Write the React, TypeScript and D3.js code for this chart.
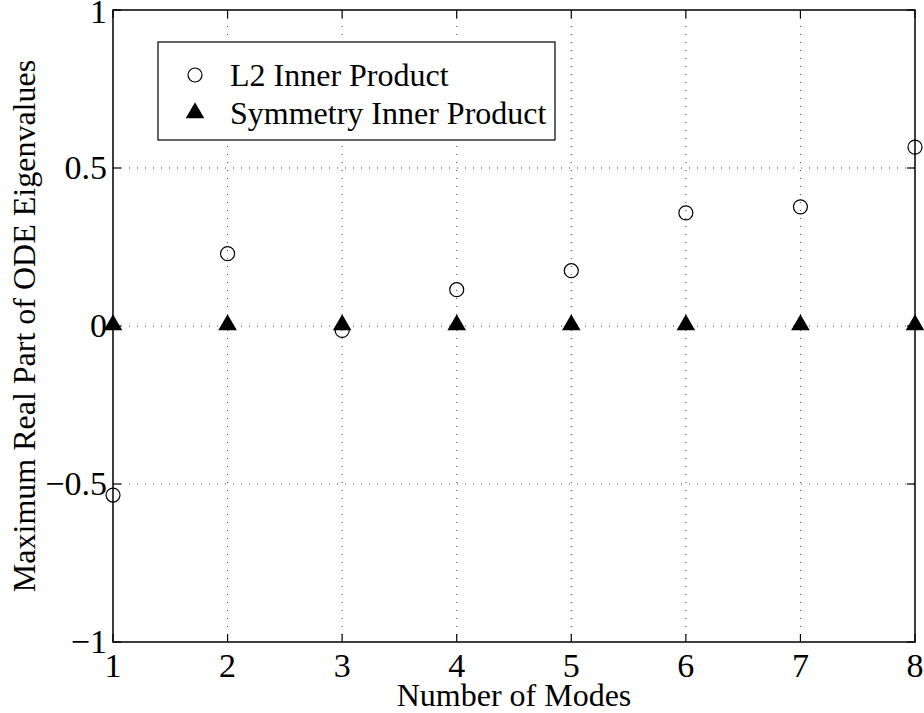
import React from "react";
import * as d3 from "d3";

// Number of modes kept in the reduced model
const modes = [1, 2, 3, 4, 5, 6, 7, 8];
// Maximum real part of ODE eigenvalues, L2 inner product
const l2Values = [-0.535, 0.229, -0.014, 0.115, 0.175, 0.358, 0.377, 0.566];
// Maximum real part of ODE eigenvalues, symmetry inner product
const symValues = [0, 0, 0, 0, 0, 0, 0, 0];

const xTicks = [1, 2, 3, 4, 5, 6, 7, 8];
const yTicks = [-1, -0.5, 0, 0.5, 1];
const yTickLabels = ["\u22121", "\u22120.5", "0", "0.5", "1"];

const legendLabels = ["L2 Inner Product", "Symmetry Inner Product"];

const W = 924;
const H = 713;
const left = 113;
const right = 915;
const top = 10;
const bottom = 642;
const font = "'Liberation Serif', 'Times New Roman', serif";
const fs = 32;
const tickFs = 34;

export default function App() {
  const x = d3.scaleLinear().domain([1, 8]).range([left, right]);
  const y = d3.scaleLinear().domain([-1, 1]).range([bottom, top]);
  const tri = d3.symbol().type(d3.symbolTriangle).size(150)();
  const tickLen = 8;

  return (
    <svg
      width={W}
      height={H}
      style={{ position: "absolute", left: 0, top: 0, background: "#fff" }}
      fontFamily={font}
    >
      <rect x={0} y={0} width={W} height={H} fill="#fff" />
      {/* dotted grid */}
      {xTicks
        .filter((t) => t > 1 && t < 8)
        .map((t) => (
          <line
            key={"gx" + t}
            x1={x(t)}
            x2={x(t)}
            y1={top}
            y2={bottom}
            stroke="#444"
            strokeWidth={1}
            strokeDasharray="1,7"
          />
        ))}
      {yTicks
        .filter((t) => t > -1 && t < 1)
        .map((t) => (
          <line
            key={"gy" + t}
            x1={left}
            x2={right}
            y1={y(t)}
            y2={y(t)}
            stroke="#444"
            strokeWidth={1}
            strokeDasharray="1,7"
          />
        ))}
      {/* inward ticks on all four sides */}
      {xTicks.map((t) => (
        <g key={"tx" + t} stroke="#000" strokeWidth={1.2}>
          <line x1={x(t)} x2={x(t)} y1={bottom} y2={bottom - tickLen} />
          <line x1={x(t)} x2={x(t)} y1={top} y2={top + tickLen} />
        </g>
      ))}
      {yTicks.map((t) => (
        <g key={"ty" + t} stroke="#000" strokeWidth={1.2}>
          <line x1={left} x2={left + tickLen} y1={y(t)} y2={y(t)} />
          <line x1={right} x2={right - tickLen} y1={y(t)} y2={y(t)} />
        </g>
      ))}
      {/* axes box */}
      <rect
        x={left}
        y={top}
        width={right - left}
        height={bottom - top}
        fill="none"
        stroke="#000"
        strokeWidth={1.5}
      />
      {/* tick labels */}
      {xTicks.map((t) => (
        <text
          key={"lx" + t}
          x={x(t)}
          y={bottom + 35}
          textAnchor="middle"
          fontSize={tickFs}
          fill="#000"
        >
          {t}
        </text>
      ))}
      {yTicks.map((t, i) => (
        <text
          key={"ly" + t}
          x={left - 6}
          y={y(t) + (t === 1 ? 13 : 11)}
          textAnchor="end"
          fontSize={tickFs}
          fill="#000"
        >
          {yTickLabels[i]}
        </text>
      ))}
      {/* axis titles */}
      <text
        x={(left + right) / 2}
        y={H - 7}
        textAnchor="middle"
        fontSize={fs}
        fill="#000"
      >
        Number of Modes
      </text>
      <text
        transform={`translate(35, ${(top + bottom) / 2}) rotate(-90)`}
        textAnchor="middle"
        fontSize={fs}
        fill="#000"
      >
        Maximum Real Part of ODE Eigenvalues
      </text>
      {/* data */}
      {modes.map((m, i) => (
        <circle
          key={"c" + m}
          cx={x(m)}
          cy={y(l2Values[i])}
          r={7}
          fill="none"
          stroke="#000"
          strokeWidth={1.2}
        />
      ))}
      {modes.map((m, i) => (
        <path
          key={"t" + m}
          d={tri || ""}
          transform={`translate(${x(m)}, ${y(symValues[i]) - 1})`}
          fill="#000"
        />
      ))}
      {/* legend */}
      <rect x={158} y={42} width={397} height={98} fill="#fff" stroke="#000" strokeWidth={1.2} />
      <circle cx={195} cy={75} r={7} fill="none" stroke="#000" strokeWidth={1.2} />
      <path d={tri || ""} transform="translate(195, 113)" fill="#000" />
      <text x={230} y={86} fontSize={fs} fill="#000">
        {legendLabels[0]}
      </text>
      <text x={230} y={124} fontSize={fs} fill="#000">
        {legendLabels[1]}
      </text>
    </svg>
  );
}
